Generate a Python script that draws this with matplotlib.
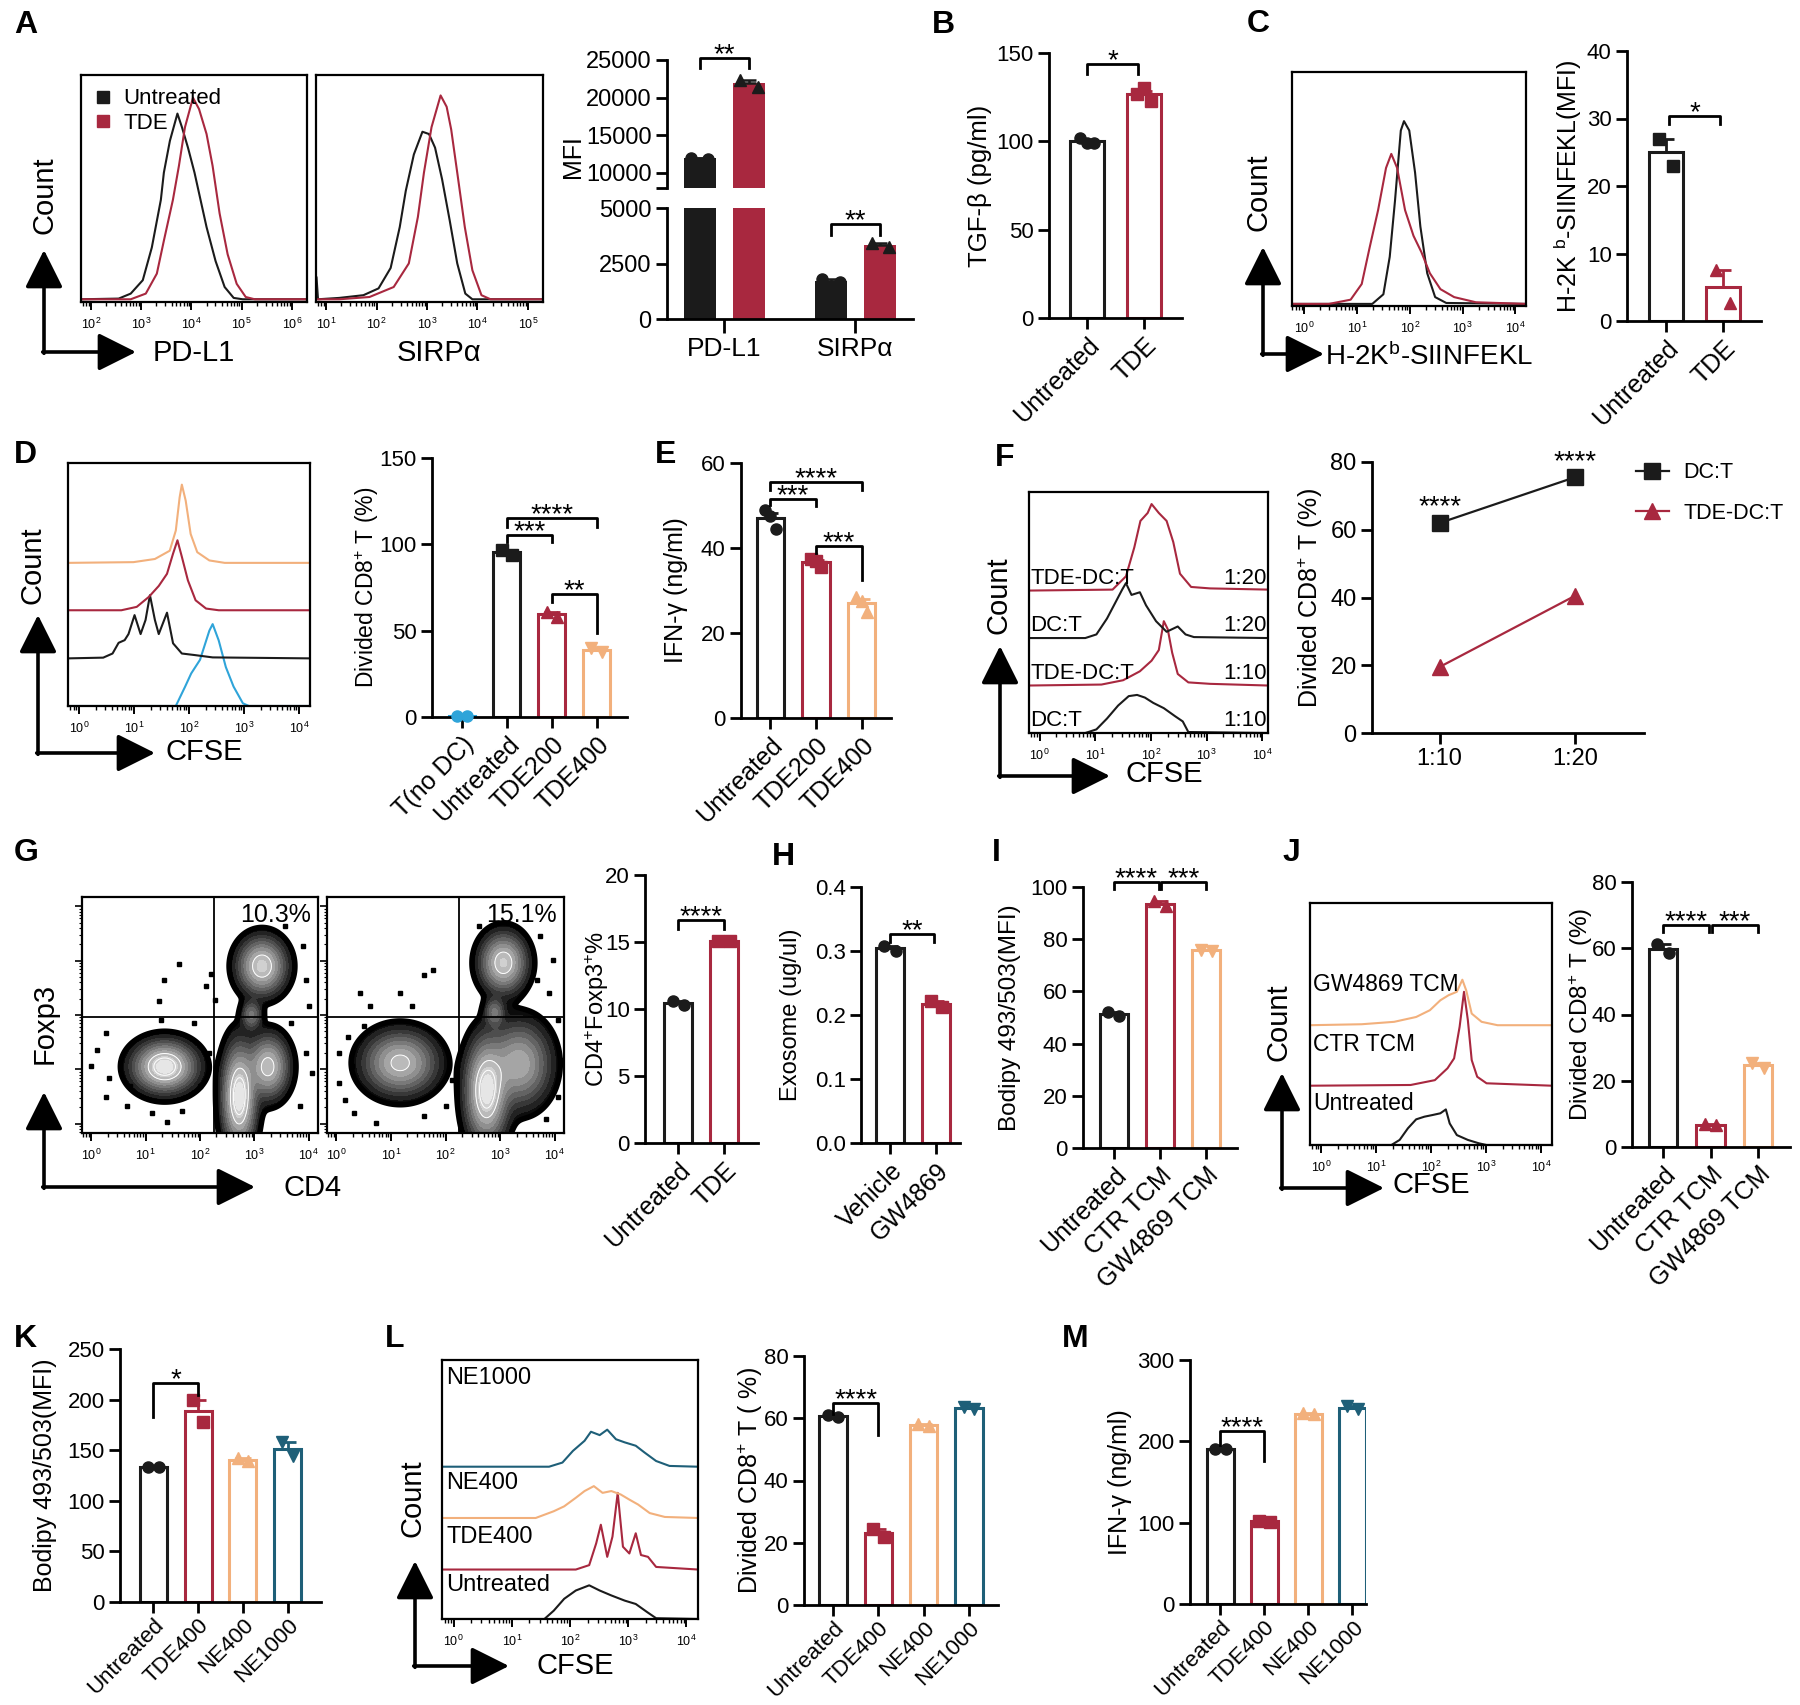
import numpy as np
import matplotlib
matplotlib.use("Agg")
import matplotlib.pyplot as plt
from matplotlib import font_manager
from matplotlib.lines import Line2D

W, H = 1800, 1705

# ---------------- data ----------------
# A: flow histograms (x = log10 intensity, y = relative count)
pdl1_untr_x = [1.8, 2.55, 2.79, 3.03, 3.21, 3.39, 3.45, 3.57, 3.72, 3.81, 3.93, 4.06, 4.18, 4.30, 4.48, 4.66, 4.84, 5.02, 6.3]
pdl1_untr_y = [0.012, 0.015, 0.037, 0.096, 0.24, 0.45, 0.57, 0.71, 0.83, 0.77, 0.68, 0.57, 0.45, 0.33, 0.18, 0.066, 0.018, 0.012, 0.012]
pdl1_tde_x = [1.8, 2.79, 3.09, 3.31, 3.45, 3.63, 3.75, 3.87, 4.03, 4.15, 4.30, 4.42, 4.56, 4.72, 4.90, 5.08, 5.26, 6.3]
pdl1_tde_y = [0.012, 0.012, 0.037, 0.125, 0.27, 0.45, 0.6, 0.77, 0.9, 0.85, 0.74, 0.6, 0.39, 0.21, 0.08, 0.022, 0.012, 0.012]
sirpa_untr_x = [0.8, 0.81, 0.84, 1.26, 1.74, 2.04, 2.28, 2.46, 2.58, 2.74, 2.91, 3.04, 3.16, 3.30, 3.45, 3.60, 3.76, 3.90, 5.3]
sirpa_untr_y = [0.11, 0.11, 0.012, 0.018, 0.03, 0.06, 0.15, 0.33, 0.49, 0.65, 0.75, 0.74, 0.68, 0.54, 0.36, 0.17, 0.037, 0.012, 0.012]
sirpa_tde_x = [0.8, 1.26, 1.86, 2.34, 2.64, 2.82, 2.94, 3.09, 3.27, 3.39, 3.48, 3.60, 3.75, 3.90, 4.08, 4.26, 5.3]
sirpa_tde_y = [0.012, 0.012, 0.022, 0.066, 0.17, 0.375, 0.57, 0.77, 0.91, 0.86, 0.76, 0.57, 0.33, 0.14, 0.03, 0.012, 0.012]

mfi_groups = ["PD-L1", "SIRPα"]
mfi_untreated = [[12000, 11900], [1780, 1680]]
mfi_tde = [[22400, 21400], [3420, 3260]]

# B
tgfb_groups = ["Untreated", "TDE"]
tgfb_values = [[102, 99, 99], [127, 130, 123]]

# C
kb_untr_x = [-0.23, 1.29, 1.50, 1.62, 1.72, 1.83, 1.89, 1.99, 2.10, 2.20, 2.33, 2.48, 2.69, 4.2]
kb_untr_y = [0.009, 0.009, 0.05, 0.21, 0.45, 0.75, 0.79, 0.75, 0.57, 0.34, 0.14, 0.038, 0.013, 0.009]
kb_tde_x = [-0.23, 0.47, 0.88, 1.09, 1.24, 1.40, 1.55, 1.65, 1.76, 1.91, 2.07, 2.22, 2.38, 2.58, 2.84, 3.25, 4.2]
kb_tde_y = [0.009, 0.009, 0.027, 0.094, 0.25, 0.41, 0.59, 0.65, 0.59, 0.41, 0.30, 0.23, 0.14, 0.072, 0.038, 0.016, 0.009]
kb_groups = ["Untreated", "TDE"]
kb_mfi = [[27, 23], [7.5, 2.7]]

# D
d_tnodc_x = [-0.2, 1.76, 1.93, 2.04, 2.20, 2.37, 2.43, 2.54, 2.67, 2.81, 2.98, 3.09, 4.2]
d_tnodc_y = [0, 0, 0.08, 0.134, 0.19, 0.31, 0.337, 0.27, 0.16, 0.08, 0.011, 0, 0]
d_untr_x = [-0.2, 0.44, 0.61, 0.72, 0.83, 0.90, 1.01, 1.12, 1.21, 1.29, 1.38, 1.45, 1.60, 1.71, 1.87, 2.09, 2.43, 4.2]
d_untr_y = [0, 0.003, 0.02, 0.064, 0.075, 0.10, 0.178, 0.10, 0.158, 0.26, 0.158, 0.10, 0.188, 0.062, 0.02, 0.014, 0.004, 0]
d_tde200_x = [-0.2, 0.77, 1.05, 1.27, 1.45, 1.60, 1.71, 1.79, 1.87, 1.98, 2.12, 2.31, 2.54, 4.2]
d_tde200_y = [0, 0, 0.014, 0.055, 0.10, 0.15, 0.233, 0.288, 0.22, 0.123, 0.041, 0.007, 0, 0]
d_tde400_x = [-0.2, 0.99, 1.38, 1.65, 1.76, 1.83, 1.87, 1.94, 2.03, 2.15, 2.37, 2.65, 4.2]
d_tde400_y = [0, 0.003, 0.016, 0.05, 0.133, 0.27, 0.322, 0.256, 0.119, 0.044, 0.01, 0, 0]
d_groups = ["T(no DC)", "Untreated", "TDE200", "TDE400"]
d_divided = [[0.5, 0.5], [97, 94], [61, 58], [40, 37.5]]

# E
e_groups = ["Untreated", "TDE200", "TDE400"]
e_ifng = [[49, 47.5, 44.5], [37.5, 37, 35.5], [28.5, 27.5, 25]]

# F
f_dc10_x = [-0.19, 0.82, 1.02, 1.21, 1.41, 1.60, 1.75, 1.89, 2.04, 2.23, 2.43, 2.57, 2.67, 4.1]
f_dc10_y = [0, 0, 0.015, 0.06, 0.114, 0.153, 0.158, 0.147, 0.125, 0.103, 0.07, 0.048, 0.004, 0]
f_tde10_x = [-0.19, 1.11, 1.50, 1.80, 2.01, 2.14, 2.23, 2.30, 2.38, 2.48, 2.67, 3.06, 4.1]
f_tde10_y = [0, 0.004, 0.022, 0.059, 0.103, 0.147, 0.267, 0.234, 0.136, 0.048, 0.013, 0.007, 0]
f_dc20_x = [-0.19, 0.82, 1.02, 1.21, 1.36, 1.48, 1.55, 1.65, 1.80, 1.91, 2.09, 2.28, 2.48, 2.62, 2.77, 4.1]
f_dc20_y = [0, 0, 0.015, 0.081, 0.147, 0.20, 0.228, 0.179, 0.19, 0.136, 0.07, 0.026, 0.048, 0.015, 0.004, 0]
f_tde20_x = [-0.19, 1.31, 1.55, 1.70, 1.81, 1.94, 2.01, 2.14, 2.28, 2.40, 2.52, 2.72, 3.06, 4.1]
f_tde20_y = [0, 0.004, 0.059, 0.179, 0.289, 0.322, 0.359, 0.322, 0.289, 0.201, 0.07, 0.015, 0.009, 0.004]
f_ratios = ["1:10", "1:20"]
f_dct = [62, 75.5]
f_tde_dct = [19.5, 40.5]

# G: zebra plot populations (centre x, centre y, sd x, sd y, weight) and outlier events
g_untr_blobs = [(1.35, 1.05, 0.3, 0.24, 1.0), (2.72, 0.5, 0.16, 0.5, 1.0), (3.25, 1.05, 0.2, 0.3, 0.7),
                (3.14, 2.9, 0.23, 0.27, 0.8), (2.95, 2.0, 0.1, 0.15, 0.3)]
g_tde_blobs = [(1.17, 1.12, 0.35, 0.3, 0.7), (2.75, 0.6, 0.2, 0.5, 1.0), (3.35, 1.1, 0.3, 0.4, 0.6),
               (3.06, 2.96, 0.22, 0.28, 0.8), (2.9, 2.05, 0.1, 0.15, 0.3)]
g_untr_dots_x = [1.61, 1.33, 1.24, 2.20, 2.11, 1.89, 1.28, 0.0, 0.11, 0.33, 0.66, 1.11, 1.39, 1.67, 2.0, 0.28,
                 3.89, 3.95, 4.0, 3.67, 3.95, 4.06, 3.84, 3.56, 0.72, 2.17, 0.28, 2.28]
g_untr_dots_y = [2.94, 2.65, 2.25, 2.76, 2.53, 1.85, 1.91, 1.06, 1.36, 0.84, 0.32, 0.20, 0.04, 0.23, 0.69, 0.50,
                 3.26, 2.65, 2.16, 1.85, 1.30, 0.93, 0.32, 3.63, 0.69, 1.30, 1.67, 2.28]
g_tde_dots_x = [0.44, 0.61, 1.17, 1.61, 1.78, 1.39, 0.22, 0.28, 0.05, 0.16, 0.33, 0.72, 1.61, 2.0, 2.11, 0.05,
                3.73, 3.96, 3.89, 4.06, 4.12, 4.06, 3.84, 2.61, 3.67, 0.50]
g_tde_dots_y = [2.40, 2.16, 2.40, 2.74, 2.83, 2.16, 1.60, 1.06, 0.75, 0.44, 0.20, 0.01, 0.14, 0.32, 0.81, 1.30,
                3.45, 3.02, 2.40, 1.91, 1.18, 0.50, 0.08, 3.63, 2.65, 1.79]
g_quad_pct = ["10.3%", "15.1%"]
g_groups = ["Untreated", "TDE"]
g_treg = [[10.6, 10.3], [15.1, 15.1]]

# H, I
h_groups = ["Vehicle", "GW4869"]
h_exosome = [[0.308, 0.300], [0.222, 0.213]]
i_groups = ["Untreated", "CTR TCM", "GW4869 TCM"]
i_bodipy = [[52, 50.5], [94.5, 92.8], [76, 75.5]]

# J
j_untr_x = [-0.2, 1.28, 1.43, 1.58, 1.73, 1.88, 2.03, 2.17, 2.27, 2.34, 2.47, 2.67, 2.87, 3.01, 4.2]
j_untr_y = [0, 0, 0.021, 0.069, 0.106, 0.117, 0.124, 0.131, 0.147, 0.089, 0.041, 0.021, 0.007, 0, 0]
j_ctr_x = [-0.2, 1.63, 2.07, 2.30, 2.42, 2.52, 2.60, 2.67, 2.74, 2.84, 3.01, 4.2]
j_ctr_y = [0, 0.003, 0.023, 0.072, 0.113, 0.243, 0.388, 0.271, 0.106, 0.037, 0.01, 0]
j_gw_x = [-0.2, 0.74, 1.33, 1.73, 1.98, 2.17, 2.32, 2.47, 2.57, 2.64, 2.74, 2.92, 3.21, 4.2]
j_gw_y = [0, 0.004, 0.014, 0.034, 0.062, 0.103, 0.124, 0.138, 0.188, 0.144, 0.048, 0.014, 0, 0]
j_groups = ["Untreated", "CTR TCM", "GW4869 TCM"]
j_divided = [[61.2, 58.5], [6.9, 6.5], [25.5, 24.0]]

# K, L, M
k_groups = ["Untreated", "TDE400", "NE400", "NE1000"]
k_bodipy = [[133, 133], [200, 178], [142, 139], [158, 144]]
l_untr_x = [-0.2, 1.56, 1.72, 1.90, 2.10, 2.33, 2.51, 2.71, 2.94, 3.13, 3.33, 3.48, 4.2]
l_untr_y = [0, 0, 0.032, 0.078, 0.11, 0.13, 0.11, 0.091, 0.071, 0.058, 0.026, 0.003, 0]
l_tde_x = [-0.2, 2.1, 2.33, 2.45, 2.53, 2.64, 2.73, 2.82, 2.91, 3.02, 3.13, 3.22, 3.34, 3.48, 4.2]
l_tde_y = [0, 0, 0.017, 0.101, 0.173, 0.049, 0.127, 0.296, 0.088, 0.062, 0.14, 0.056, 0.049, 0.01, 0]
l_ne400_x = [-0.2, 1.41, 1.72, 1.90, 2.10, 2.25, 2.41, 2.56, 2.71, 2.87, 3.02, 3.17, 3.37, 3.63, 4.2]
l_ne400_y = [0, 0, 0.026, 0.045, 0.078, 0.104, 0.123, 0.097, 0.104, 0.091, 0.071, 0.052, 0.019, 0.004, 0]
l_ne1000_x = [-0.2, 1.64, 1.87, 2.05, 2.25, 2.36, 2.51, 2.64, 2.79, 2.94, 3.13, 3.28, 3.48, 3.71, 4.2]
l_ne1000_y = [0, 0, 0.016, 0.061, 0.10, 0.135, 0.122, 0.143, 0.106, 0.094, 0.081, 0.055, 0.022, 0.003, 0]
l_divided = [[61, 60.5], [24.5, 22], [58, 57.5], [63.5, 63]]
m_ifng = [[191, 190], [102, 101], [235, 233], [243, 240]]

# ---------------- style ----------------
BLACK = "#1b1b1b"
RED = "#a8283f"
ORANGE = "#f2b07c"
TEAL = "#1e5f78"
BLUE = "#2fa4d9"

plt.rcParams["font.family"] = ["Liberation Sans", "DejaVu Sans"]
plt.rcParams["mathtext.fontset"] = "custom"
plt.rcParams["mathtext.rm"] = "Liberation Sans"
plt.rcParams["mathtext.it"] = "Liberation Sans:italic"
plt.rcParams["mathtext.bf"] = "Liberation Sans:bold"

names = {f.name for f in font_manager.fontManager.ttflist}
NARROW = ["Liberation Sans Narrow" if "Liberation Sans Narrow" in names else "Liberation Sans", "DejaVu Sans"]

fig = plt.figure(figsize=(W / 100, H / 100), dpi=100)


def px_axes(x0, y0, x1, y1):
    ax = fig.add_axes([x0 / W, 1 - y1 / H, (x1 - x0) / W, (y1 - y0) / H])
    ax.box = (x0, y0, x1, y1)
    return ax


def ylabel_at(ax, text, xc, yc=None, fs=17, family=None):
    x0, y0, x1, y1 = ax.box
    ax.set_ylabel(text, fontsize=fs, family=family)
    ax.yaxis.label.set_va("center")
    fy = 0.5 if yc is None else (y1 - yc) / (y1 - y0)
    ax.yaxis.set_label_coords((xc - x0) / (x1 - x0), fy)


def clean(ax, fs=16):
    for s in ("top", "right"):
        ax.spines[s].set_visible(False)
    for s in ("left", "bottom"):
        ax.spines[s].set_linewidth(2)
    ax.tick_params(width=2, length=8, labelsize=fs, pad=3)


def sem(vals):
    vals = np.asarray(vals, float)
    return vals.std(ddof=1) / np.sqrt(len(vals))


def bar_panel(ax, values, colors, markers, labels, xlim, ylim, yticks, ylabels=None,
              width=0.6, tick_family=None, xlabel_size=18, xpad=3):
    for i, (vals, c, m) in enumerate(zip(values, colors, markers)):
        vals = np.asarray(vals, float)
        mean = vals.mean()
        ax.bar(i, mean, width, facecolor="white", edgecolor=c, linewidth=2.2, zorder=2)
        ax.errorbar(i, mean, yerr=[[0], [sem(vals)]], fmt="none", ecolor=c, elinewidth=2,
                    capsize=6, capthick=2, zorder=3)
        offs = np.linspace(-0.12, 0.12, len(vals))
        ax.plot(i + offs, vals, ls="none", marker=m, color=c, ms=8, zorder=4, clip_on=False)
    ax.set_xlim(*xlim)
    ax.set_ylim(*ylim)
    if ylabels is None:
        ylabels = [f"{t:g}" for t in yticks]
    ax.set_yticks(yticks, ylabels, family=tick_family)
    ax.set_xticks(range(len(labels)), labels, rotation=45, ha="right", va="top",
                  rotation_mode="anchor")
    clean(ax)
    ax.tick_params(axis="x", labelsize=xlabel_size, pad=xpad)


def sig(ax, x1, x2, y, d1, d2, label, fs=20):
    ax.plot([x1, x1, x2, x2], [y - d1, y, y, y - d2], color="black", lw=2, clip_on=False, zorder=5)
    ax.annotate(label, ((x1 + x2) / 2, y), xytext=(0, -3), textcoords="offset points",
                ha="center", va="baseline", fontsize=fs, annotation_clip=False)


def log_ticks(ax, xlim, decades, label_size=9):
    minor = [d + np.log10(k) for d in range(-1, 7) for k in range(2, 10)]
    ax.set_xticks(list(decades), [f"$10^{{{d}}}$" for d in decades])
    ax.set_xticks([m for m in minor if xlim[0] < m < xlim[1]], minor=True)
    ax.tick_params(axis="x", which="major", length=6, width=1.4, labelsize=label_size, pad=5)
    ax.tick_params(axis="x", which="minor", length=3, width=1)
    for s in ax.spines.values():
        s.set_linewidth(1.6)


def flow_hist(ax, curves, xlim, decades, offsets=None):
    for i, (x, y, c) in enumerate(curves):
        base = offsets[i] if offsets else 0
        ax.plot(x, np.asarray(y) + base, color=c, lw=1.5)
    ax.set_xlim(*xlim)
    ax.set_ylim(0, 1)
    ax.set_yticks([])
    log_ticks(ax, xlim, decades)


def zebra(ax, blobs, dots_x, dots_y, qx, qy, pct):
    g = np.linspace(-0.17, 4.17, 400)
    X, Y = np.meshgrid(g, g)
    Z = np.zeros_like(X)
    for cx, cy, sx, sy, w in blobs:
        Z += w * np.exp(-0.5 * (((X - cx) / sx) ** 2 + ((Y - cy) / sy) ** 2))
    Z /= Z.max()
    lev = [0.025, 0.05, 0.09, 0.14, 0.2, 0.28, 0.37, 0.48, 0.6, 0.74, 0.88, 1.01]
    greys = plt.cm.gray(np.linspace(0.05, 0.9, len(lev) - 1))
    ax.contourf(X, Y, Z, levels=lev, colors=greys)
    ax.contour(X, Y, Z, levels=[0.6, 0.8], colors="white", linewidths=0.7)
    ax.contour(X, Y, Z, levels=[0.025], colors="black", linewidths=4)
    ax.plot(dots_x, dots_y, ls="none", marker="s", ms=3, color="black")
    ax.axvline(qx, color="black", lw=1.3)
    ax.axhline(qy, color="black", lw=1.3)
    ax.text(0.97, 0.975, pct, transform=ax.transAxes, ha="right", va="top", fontsize=18, family=NARROW)
    ax.set_xlim(-0.17, 4.17)
    ax.set_ylim(-0.17, 4.17)
    log_ticks(ax, (-0.17, 4.17), range(0, 5))
    minor = [d + np.log10(k) for d in range(-1, 5) for k in range(2, 10)]
    ax.set_yticks(range(0, 5), [""] * 5)
    ax.set_yticks([m for m in minor if -0.17 < m < 4.17], minor=True)
    ax.tick_params(axis="y", which="major", length=5, width=1.2)
    ax.tick_params(axis="y", which="minor", length=2.5, width=0.8)


# overlay for panel letters, axis arrows and flow axis names (pixel coords from top-left)
ov = fig.add_axes([0, 0, 1, 1], zorder=20)
ov.set_xlim(0, W)
ov.set_ylim(H, 0)
ov.axis("off")


def letter(ch, x, y):
    ov.text(x, y, ch, fontsize=23, fontweight="bold", ha="left", va="center")


def flow_arrows(x, y, top, right):
    kw = dict(arrowstyle="-|>,head_length=0.9,head_width=0.45", color="black", lw=2.6,
              mutation_scale=26, shrinkA=0, shrinkB=0)
    ov.annotate("", xy=(x, top), xytext=(x, y + 1.3), arrowprops=kw)
    ov.annotate("", xy=(right, y), xytext=(x - 1.3, y), arrowprops=kw)


def count_label(x, y, text="Count"):
    ov.text(x, y, text, rotation=90, ha="center", va="center", fontsize=21)


# ---------------- A ----------------
letter("A", 14, 25)
ha1 = px_axes(81, 75, 307, 302)
flow_hist(ha1, [(pdl1_untr_x, pdl1_untr_y, BLACK), (pdl1_tde_x, pdl1_tde_y, RED)], (1.8, 6.3), range(2, 7))
ha1.legend(handles=[Line2D([], [], ls="none", marker="s", color=BLACK, ms=8),
                    Line2D([], [], ls="none", marker="s", color=RED, ms=8)],
           labels=["Untreated", "TDE"], loc="upper left", frameon=False, handlelength=0.8,
           handletextpad=0.5, labelspacing=0.15, borderaxespad=0.2, prop={"family": NARROW, "size": 16})
ha2 = px_axes(316, 75, 543, 302)
flow_hist(ha2, [(sirpa_untr_x, sirpa_untr_y, BLACK), (sirpa_tde_x, sirpa_tde_y, RED)], (0.8, 5.3), range(1, 6))
flow_arrows(44, 352, 250, 136)
count_label(45, 195)
ov.text(194, 353, "PD-L1", ha="center", va="center", fontsize=21, family=NARROW)
ov.text(439, 353, "SIRPα", ha="center", va="center", fontsize=21, family=NARROW)

up = px_axes(667, 60, 913, 188)
lo = px_axes(667, 208, 913, 319)
for ax in (up, lo):
    for series, c, m, off in ((mfi_untreated, BLACK, "o", -0.185), (mfi_tde, RED, "^", 0.19)):
        for i, vals in enumerate(series):
            mean = np.mean(vals)
            ax.bar(i + off, mean, 0.245, color=c, zorder=2)
            ax.errorbar(i + off, mean, yerr=[[0], [sem(vals)]], fmt="none", ecolor=BLACK,
                        elinewidth=1.8, capsize=5, capthick=1.8, zorder=3)
            ax.plot(i + off + np.array([-0.065, 0.065]), vals, ls="none", marker=m, color=BLACK,
                    ms=8, zorder=4)
    ax.set_xlim(-0.435, 1.44)
    clean(ax, fs=17)
up.set_ylim(8000, 25000)
up.set_yticks([8000, 10000, 15000, 20000, 25000], ["", "10000", "15000", "20000", "25000"], family=NARROW)
up.spines["bottom"].set_visible(False)
up.set_xticks([])
lo.set_ylim(0, 5000)
lo.set_yticks([0, 2500, 5000], ["0", "2500", "5000"], family=NARROW)
lo.set_xticks(range(len(mfi_groups)), mfi_groups, family=NARROW, fontsize=19)
lo.tick_params(axis="x", length=10)
ylabel_at(up, "MFI", 573, 157, fs=18)
sig(up, -0.185, 0.19, 25200, 1300, 1300, "**")
sig(lo, 0.815, 1.19, 4300, 520, 520, "**")

# ---------------- B ----------------
letter("B", 932, 25)
bb = px_axes(1049, 53, 1182, 318)
bar_panel(bb, tgfb_values, [BLACK, RED], ["o", "s"], tgfb_groups, (-0.667, 1.667), (0, 150), [0, 50, 100, 150])
ylabel_at(bb, "TGF-β (pg/ml)", 980, fs=18.5)
sig(bb, 0, 0.9, 143.5, 5.5, 5.5, "*")

# ---------------- C ----------------
letter("C", 1247, 24)
hc = px_axes(1292, 72, 1526, 306)
flow_hist(hc, [(kb_untr_x, kb_untr_y, BLACK), (kb_tde_x, kb_tde_y, RED)], (-0.23, 4.2), range(0, 5))
flow_arrows(1263, 354, 247, 1324)
count_label(1259, 192)
ov.text(1325, 357, r"H-2K$^{\mathrm{b}}$-SIINFEKL", ha="left", va="center", fontsize=20)
cb = px_axes(1627, 51, 1761, 321)
bar_panel(cb, kb_mfi, [BLACK, RED], ["s", "^"], kb_groups, (-0.684, 1.667), (0, 40), [0, 10, 20, 30, 40])
ylabel_at(cb, r"H-2K $^{\mathrm{b}}$-SIINFEKL(MFI)", 1568, fs=18)
sig(cb, 0.05, 0.95, 30.4, 1.2, 1.2, "*")

# ---------------- D ----------------
letter("D", 14, 455)
hd = px_axes(68, 463, 310, 706)
flow_hist(hd, [(d_tnodc_x, d_tnodc_y, BLUE), (d_untr_x, d_untr_y, BLACK),
               (d_tde200_x, d_tde200_y, RED), (d_tde400_x, d_tde400_y, ORANGE)],
          (-0.2, 4.2), range(0, 5), offsets=[0, 0.196, 0.394, 0.589])
flow_arrows(38, 753, 615, 155)
count_label(33, 565)
ov.text(204, 752, "CFSE", ha="center", va="center", fontsize=21)
db = px_axes(432, 458, 627, 717)
bar_panel(db, d_divided, [BLUE, BLACK, RED, ORANGE], ["o", "s", "^", "v"], d_groups,
          (-0.667, 3.67), (0, 150), [0, 50, 100, 150])
ylabel_at(db, r"Divided CD8$^{+}$ T (%)", 367, fs=16.5)
sig(db, 1, 2, 105.5, 4, 4, "***")
sig(db, 1, 3, 115, 5, 5, "****")
sig(db, 2, 3, 71.2, 4.4, 22.8, "**")

# ---------------- E ----------------
letter("E", 655, 455)
eb = px_axes(741, 463, 891, 718)
bar_panel(eb, e_ifng, [BLACK, RED, ORANGE], ["o", "s", "^"], e_groups, (-0.64, 2.64), (0, 60), [0, 20, 40, 60])
ylabel_at(eb, "IFN-γ (ng/ml)", 676, fs=18)
sig(eb, 0, 1, 51.6, 1.4, 1.8, "***")
sig(eb, 0, 2, 55.5, 1.8, 1.8, "****")
sig(eb, 1, 2, 40.4, 1.6, 7.9, "***")

# ---------------- F ----------------
letter("F", 995, 458)
hf = px_axes(1029, 492, 1268, 733)
f_off = [0, 0.197, 0.394, 0.591]
flow_hist(hf, [(f_dc10_x, f_dc10_y, BLACK), (f_tde10_x, f_tde10_y, RED),
               (f_dc20_x, f_dc20_y, BLACK), (f_tde20_x, f_tde20_y, RED)],
          (-0.19, 4.1), range(0, 5), offsets=f_off)
for base, name, ratio in zip(f_off, ["DC:T", "TDE-DC:T", "DC:T", "TDE-DC:T"], ["1:10", "1:10", "1:20", "1:20"]):
    hf.text(0.005, base + 0.008, name, transform=hf.transAxes, ha="left", va="bottom", fontsize=16)
    hf.text(0.995, base + 0.008, ratio, transform=hf.transAxes, ha="right", va="bottom", fontsize=16)
flow_arrows(1000, 776, 646, 1110)
count_label(999, 595)
ov.text(1164, 774, "CFSE", ha="center", va="center", fontsize=21)

fl = px_axes(1372, 462, 1644, 733)
xr = np.arange(len(f_ratios))
fl.plot(xr, f_dct, color=BLACK, marker="s", ms=11, lw=1.6, label="DC:T", clip_on=False, zorder=3)
fl.plot(xr, f_tde_dct, color=RED, marker="^", ms=11, lw=1.6, label="TDE-DC:T", clip_on=False, zorder=3)
fl.set_xlim(-0.5, 1.51)
fl.set_ylim(0, 80)
fl.set_yticks([0, 20, 40, 60, 80])
fl.set_xticks(xr, f_ratios)
clean(fl, fs=17)
for x, a in zip(xr, f_dct):
    fl.annotate("****", (x, a), xytext=(0, 6), textcoords="offset points", ha="center",
                va="baseline", fontsize=20, annotation_clip=False)
fl.legend(loc="upper left", bbox_to_anchor=(0.94, 1.03), frameon=False, fontsize=15.5,
          handlelength=1.5, handletextpad=0.7, labelspacing=0.9, borderaxespad=0)
ylabel_at(fl, r"Divided CD8$^{+}$ T (%)", 1310, fs=18)

# ---------------- G ----------------
letter("G", 14, 853)
g1 = px_axes(82, 897, 318, 1133)
zebra(g1, g_untr_blobs, g_untr_dots_x, g_untr_dots_y, 2.25, 1.97, g_quad_pct[0])
g2 = px_axes(327, 897, 564, 1133)
zebra(g2, g_tde_blobs, g_tde_dots_x, g_tde_dots_y, 2.24, 1.97, g_quad_pct[1])
flow_arrows(44, 1187, 1092, 255)
count_label(45, 1023, "Foxp3")
ov.text(313, 1188, "CD4", ha="center", va="center", fontsize=21, family=NARROW)
gb = px_axes(645, 875, 758, 1143)
bar_panel(gb, g_treg, [BLACK, RED], ["o", "s"], g_groups, (-0.72, 1.74), (0, 20), [0, 5, 10, 15, 20],
          tick_family=NARROW)
ylabel_at(gb, r"CD4$^{+}$Foxp3$^{+}$%", 597)
sig(gb, 0, 1, 16.65, 0.65, 0.65, "****")

# ---------------- H ----------------
letter("H", 772, 857)
hb = px_axes(861, 887, 960, 1143)
bar_panel(hb, h_exosome, [BLACK, RED], ["o", "s"], h_groups, (-0.63, 1.52), (0, 0.4),
          [0, 0.1, 0.2, 0.3, 0.4], ["0.0", "0.1", "0.2", "0.3", "0.4"], tick_family=NARROW)
ylabel_at(hb, "Exosome (ug/ul)", 791)
sig(hb, 0, 0.95, 0.326, 0.012, 0.012, "**")

# ---------------- I ----------------
letter("I", 992, 853)
ib = px_axes(1083, 887, 1237, 1148)
bar_panel(ib, i_bodipy, [BLACK, RED, ORANGE], ["o", "^", "v"], i_groups, (-0.67, 2.67), (0, 100),
          [0, 20, 40, 60, 80, 100], tick_family=NARROW)
ylabel_at(ib, "Bodipy 493/503(MFI)", 1010, fs=17.5)
sig(ib, 0, 0.97, 101.9, 2.5, 2.5, "****")
sig(ib, 1.03, 2, 101.9, 2.5, 2.5, "***")

# ---------------- J ----------------
letter("J", 1283, 853)
hj = px_axes(1310, 903, 1552, 1145)
j_off = [0, 0.245, 0.495]
flow_hist(hj, [(j_untr_x, j_untr_y, BLACK), (j_ctr_x, j_ctr_y, RED), (j_gw_x, j_gw_y, ORANGE)],
          (-0.2, 4.2), range(0, 5), offsets=j_off)
for base, name in zip(j_off, ["Untreated", "CTR TCM", "GW4869 TCM"]):
    hj.text(0.012, base + 0.17, name, transform=hj.transAxes, ha="left", va="center", fontsize=16.5,
            family=NARROW)
flow_arrows(1282, 1188, 1073, 1384)
count_label(1278, 1022)
ov.text(1431, 1185, "CFSE", ha="center", va="center", fontsize=21, family=NARROW)
jb = px_axes(1632, 882, 1790, 1147)
bar_panel(jb, j_divided, [BLACK, RED, ORANGE], ["o", "^", "v"], j_groups, (-0.65, 2.67), (0, 80),
          [0, 20, 40, 60, 80], tick_family=NARROW)
ylabel_at(jb, r"Divided CD8$^{+}$ T (%)", 1581, fs=17.5)
sig(jb, 0, 0.97, 66.9, 2, 2, "****")
sig(jb, 1.03, 2, 66.9, 2, 2, "***")

# ---------------- K ----------------
letter("K", 14, 1339)
kb = px_axes(120, 1349, 321, 1602)
bar_panel(kb, k_bodipy, [BLACK, RED, ORANGE, TEAL], ["o", "s", "^", "v"], k_groups, (-0.74, 3.74),
          (0, 250), [0, 50, 100, 150, 200, 250], tick_family=NARROW, xlabel_size=16, xpad=1)
ylabel_at(kb, "Bodipy 493/503(MFI)", 45, fs=18)
sig(kb, 0, 1, 216.7, 33.4, 11.7, "*")

# ---------------- L ----------------
letter("L", 385, 1339)
hl = px_axes(442, 1360, 698, 1619)
l_off = [0, 0.191, 0.39, 0.588]
flow_hist(hl, [(l_untr_x, l_untr_y, BLACK), (l_tde_x, l_tde_y, RED),
               (l_ne400_x, l_ne400_y, ORANGE), (l_ne1000_x, l_ne1000_y, TEAL)],
          (-0.2, 4.2), range(0, 5), offsets=l_off)
for ty, name in zip([0.131, 0.317, 0.525, 0.93], ["Untreated", "TDE400", "NE400", "NE1000"]):
    hl.text(0.017, ty, name, transform=hl.transAxes, ha="left", va="center", fontsize=17, family=NARROW)
flow_arrows(415, 1666, 1561, 509)
count_label(412, 1498)
ov.text(575, 1666, "CFSE", ha="center", va="center", fontsize=21, family=NARROW)
lb = px_axes(804, 1356, 998, 1605)
bar_panel(lb, l_divided, [BLACK, RED, ORANGE, TEAL], ["o", "s", "^", "v"], k_groups, (-0.64, 3.64),
          (0, 80), [0, 20, 40, 60, 80], tick_family=NARROW, xlabel_size=16, xpad=1)
ylabel_at(lb, r"Divided CD8$^{+}$ T ( %)", 750, fs=18)
sig(lb, 0, 1, 64.75, 3.5, 10, "****")

# ---------------- M ----------------
letter("M", 1062, 1339)
mb = px_axes(1190, 1360, 1366, 1604)
bar_panel(mb, m_ifng, [BLACK, RED, ORANGE, TEAL], ["o", "s", "^", "v"], k_groups, (-0.69, 3.31),
          (0, 300), [0, 100, 200, 300], tick_family=NARROW, xlabel_size=16, xpad=1)
ylabel_at(mb, "IFN-γ (ng/ml)", 1120, fs=18)
sig(mb, 0, 1, 212.9, 17.3, 37, "****")

fig.savefig("out.png", dpi=100)
